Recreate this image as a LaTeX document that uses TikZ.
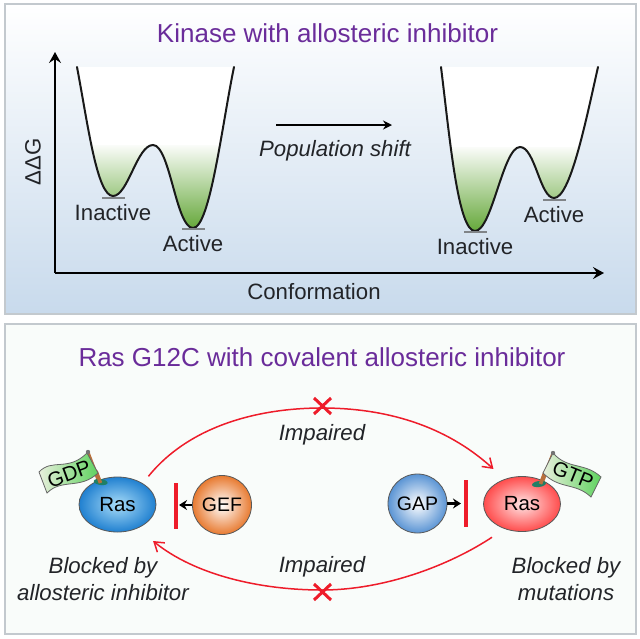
\documentclass[tikz,border=0pt]{standalone}
\usepackage{fontspec}
\usepackage{tikz}
\setmainfont{Liberation Sans}
\usetikzlibrary{arrows.meta,positioning,shapes.geometric}
\definecolor{titlePurple}{HTML}{6A2C9A}
\definecolor{panelEdge}{HTML}{C3C9CE}
\definecolor{panelLow}{HTML}{C8DAEC}
\definecolor{panelPale}{HTML}{F9FCFA}
\definecolor{wellGreen}{HTML}{62A636}
\definecolor{barGray}{HTML}{808488}
\definecolor{textDark}{HTML}{222428}
\definecolor{inhibRed}{HTML}{EE1C2A}
\definecolor{poleBrown}{HTML}{B8703C}
\definecolor{pitGreen}{HTML}{1F7F66}
\definecolor{flagPale}{HTML}{E8EFDC}
\definecolor{flagGreen}{HTML}{5FD35F}
\definecolor{rasBlueIn}{HTML}{A8DCF8}
\definecolor{rasBlueOut}{HTML}{2080D0}
\definecolor{gefOut}{HTML}{E87A30}
\definecolor{gapOut}{HTML}{5A94D4}
\begin{document}
\begin{tikzpicture}[
            x=1pt, y=-1pt,
            txt/.style = {
                text=textDark,
                inner sep=0pt,
                font=\fontsize{22.2}{27}\selectfont
            },
            emtxt/.style = {
                txt,
                align=center,
                font=\fontsize{22.2}{27}\selectfont\itshape
            },
            titletxt/.style = {
                text=titlePurple,
                inner sep=0pt,
                font=\fontsize{26}{30}\selectfont
            },
            panel/.style = {
                draw=panelEdge,
                line width=1.2pt
            },
            well/.style = {
                draw=black!90,
                line width=2pt,
                line cap=round
            },
            level/.style = {
                draw=barGray,
                line width=1.6pt
            },
            axis/.style = {
                draw=black,
                line width=1.8pt,
                -{Stealth[length=11pt,width=12pt,inset=4pt]}
            },
            protein/.style = {
                draw=black!65,
                line width=0.8pt,
                inner sep=0pt,
                text=black,
                font=\fontsize{20.5}{24}\selectfont
            },
            rasnode/.style = {
                protein,
                ellipse,
                minimum width=77pt,
                minimum height=55pt
            },
            regnode/.style = {
                protein,
                circle,
                minimum size=59pt,
                font=\fontsize{19.5}{24}\selectfont
            },
            cycle/.style = {
                draw=inhibRed,
                line width=1.5pt,
                -{Straight Barb[length=9pt,width=12pt]}
            },
            blockbar/.style = {
                draw=inhibRed,
                line width=4pt
            },
            hit/.style = {
                draw=black,
                line width=2.6pt,
                -{Stealth[length=8pt,width=10pt]}
            },
            cross/.style = {
                draw=inhibRed,
                line width=3pt
            },
            flag/.style = {
                draw=black!60,
                line width=0.8pt,
                left color=flagPale,
                right color=flagGreen
            },
            flagtxt/.style = {
                text=black,
                inner sep=0pt,
                font=\fontsize{20.5}{22}\selectfont
            },
            pole/.style = {
                draw=poleBrown,
                line width=3.6pt
            },
            pit/.style = {
                fill=pitGreen
            }
        ]
            \useasboundingbox (0,0) rectangle (640,638);
            \fill[white] (0,0) rectangle (640,638);

            % panels
            \draw[panel, top color=white, bottom color=panelLow] (5,4) rectangle (636,314);
            \draw[panel, fill=panelPale] (5,324) rectangle (636,634);
            \node[titletxt] (title1) at (327.5,33) {Kinase with allosteric inhibitor};
            \node[titletxt] (title2) at (322,357) {Ras G12C with covalent allosteric inhibitor};

            % energy wells
            \def\wellA{(77,67) .. controls (88,125) and (97,196) .. (113,196) .. controls (128,196) and (137,145) .. (153,145) .. controls (170,145) and (176,228) .. (193,228) .. controls (210,228) and (222,125) .. (234,67)}
            \def\wellB{(441,67) .. controls (450,140) and (458,231) .. (475,231) .. controls (492,231) and (503,147) .. (520,147) .. controls (535,147) and (540,198) .. (554,198) .. controls (570,198) and (585,125) .. (598,67)}
            \begin{scope}
                \clip \wellA -- cycle;
                \fill[white] (70,60) rectangle (240,146);
                \fill[top color=wellGreen!3!white, bottom color=wellGreen] (70,145) rectangle (240,230);
            \end{scope}
            \begin{scope}
                \clip \wellB -- cycle;
                \fill[white] (430,60) rectangle (605,148);
                \fill[top color=wellGreen!3!white, bottom color=wellGreen] (430,147) rectangle (605,233);
            \end{scope}
            \draw[well] \wellA;
            \draw[well] \wellB;
            \draw[level] (102,198) -- (125,198);
            \draw[level] (182,229) -- (205,229);
            \draw[level] (464,232) -- (487,232);
            \draw[level] (543,200) -- (566,200);
            \node[txt] (inactA) at (113,213) {Inactive};
            \node[txt] (actA) at (193,244) {Active};
            \node[txt] (inactB) at (475,247) {Inactive};
            \node[txt] (actB) at (554,215) {Active};

            % axes
            \coordinate (origin) at (55,273);
            \coordinate (ytop) at (55,52);
            \coordinate (xend) at (604,273);
            \draw[axis] (origin) -- (ytop);
            \draw[axis] (origin) -- (xend);
            \node[txt, rotate=90] (ddg) at (33,162) {ΔΔG};
            \node[txt] (conf) at (314,292) {Conformation};
            \coordinate (shiftA) at (276,125);
            \coordinate (shiftB) at (392,125);
            \draw[axis, -{Stealth[length=9pt,width=9pt]}] (shiftA) -- (shiftB);
            \node[emtxt] (shift) at (335,150.5) {Population shift};

            % flag poles go under the proteins' pits
            \draw[pole] (100,484) -- (88,453);
            \draw[pole] (541,485) -- (553,454);

            % ras cycle
            \node[rasnode, inner color=rasBlueIn, outer color=rasBlueOut] (rasL) at (117.5,504.5) {Ras};
            \node[rasnode, inner color=red!10!white, outer color=red!70!white] (rasR) at (522,504) {Ras};
            \node[regnode, inner color=white, outer color=gefOut] (gef) at (222,505) {GEF};
            \node[regnode, inner color=white, outer color=gapOut] (gap) at (417.5,503.5) {GAP};

            \fill[pit, rotate around={-8:(100.7,482)}] (100.7,482) ellipse (7pt and 3pt);
            \fill[pit, rotate around={8:(539,484)}] (539,484) ellipse (7pt and 3pt);
            \draw[pole] (100.5,483) -- (96,471);
            \draw[pole] (540.5,484) -- (545,472);

            % flags
            \draw[flag] (39,472) .. controls (52,458) and (68,472) .. (87,453) -- (98,473) .. controls (80,490) and (62,478) .. (47,493) -- cycle;
            \draw[flag] (553,453) .. controls (568,470) and (585,462) .. (601,477) -- (591,497) .. controls (575,482) and (560,490) .. (543,473) -- cycle;
            \fill[black!55] (88,452) circle (2.2pt);
            \fill[black!55] (553,453) circle (2.2pt);
            \node[flagtxt, rotate=20] (gdp) at (69,474) {GDP};
            \node[flagtxt, rotate=-22] (gtp) at (573,475) {GTP};

            \coordinate (blockLa) at (176,483);
            \coordinate (blockLb) at (176,529);
            \coordinate (blockRa) at (466,480);
            \coordinate (blockRb) at (466,527);
            \draw[blockbar] (blockLa) -- (blockLb);
            \draw[blockbar] (blockRa) -- (blockRb);
            \draw[hit] (gef.west) -- (179,505);
            \draw[hit] (gap.east) -- (461,503.5);

            \coordinate (topmid) at (322,408);
            \coordinate (lowmid) at (322,590);
            \draw[cycle, shorten <=9pt, shorten >=15pt] (rasL.40) .. controls (190,425) and (260,408) .. (topmid) .. controls (385,408) and (445,425) .. (rasR.125);
            \draw[cycle, shorten <=15pt, shorten >=20pt] (rasR.235) .. controls (450,565) and (385,590) .. (lowmid) .. controls (260,590) and (195,575) .. (rasL.-50);
            \draw[cross] (314,398) -- (331,414);
            \draw[cross] (331,398) -- (314,414);
            \draw[cross] (314,584) -- (331,600);
            \draw[cross] (331,584) -- (314,600);
            \node[emtxt] (impA) at (322,434.5) {Impaired};
            \node[emtxt] (impB) at (322,566.5) {Impaired};
            \node[emtxt] (noteL) at (103,579) {Blocked by\\allosteric inhibitor};
            \node[emtxt] (noteR) at (566,579) {Blocked by\\mutations};

        \end{tikzpicture}
\end{document}
